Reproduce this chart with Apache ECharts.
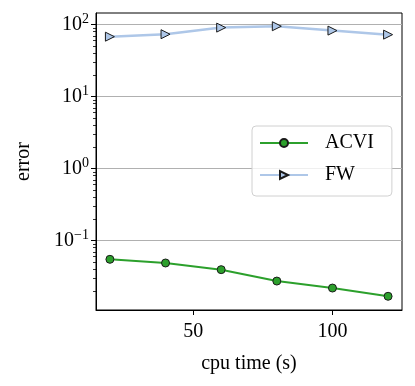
<!DOCTYPE html>
<html>
<head>
<meta charset="utf-8">
<script src="https://cdn.jsdelivr.net/npm/echarts@6/dist/echarts.min.js"></script>
<style>
  html, body { margin: 0; padding: 0; background: #fff; }
  #chart { width: 415px; height: 386px; }
</style>
</head>
<body>
<div id="chart"></div>
<script>
const cpuTime = [20, 40, 60, 80, 100, 120];
const acviError = [0.0551, 0.049, 0.0396, 0.0275, 0.022, 0.0169];
const fwError = [68, 73.6, 90.9, 95, 82.6, 72.6];
const xTicks = [50, 100];
const yTicks = [0.1, 1, 10, 100];

const yMin = 0.0109;
const yMax = 145;
const font = "Liberation Serif";

// matplotlib-like minor ticks at 2..9 x 10^k
const minorTicks = [];
for (let k = -2; k <= 2; k++) {
  for (let m = 2; m <= 9; m++) {
    const v = m * Math.pow(10, k);
    if (v > yMin && v < yMax) minorTicks.push(v);
  }
}

function powLabel(v) {
  const e = Math.round(Math.log10(v));
  return "10{sup|" + String(e).replace("-", "\u2212") + "}";
}

const chart = echarts.init(document.getElementById("chart"));
chart.setOption({
  animation: false,
  textStyle: { fontFamily: font },
  grid: {
    left: 96, right: 13, top: 13, bottom: 76,
    show: true, borderColor: "#000", borderWidth: 1,
  },
  legend: {
    orient: "vertical",
    left: 252,
    top: 126,
    padding: [7, 18, 11, 7],
    itemWidth: 48,
    itemHeight: 10,
    itemGap: 12,
    backgroundColor: "rgba(255,255,255,0.8)",
    borderColor: "#d0d0d0",
    borderWidth: 1,
    borderRadius: 4,
    textStyle: { fontFamily: font, fontSize: 20, color: "#000", lineHeight: 20, padding: [0, 0, 0, 12] },
    data: ["ACVI", "FW"],
  },
  xAxis: {
    type: "value",
    min: 15,
    max: 125,
    name: "cpu time (s)",
    nameLocation: "middle",
    nameGap: 44,
    nameTextStyle: { fontFamily: font, fontSize: 20, color: "#000" },
    axisLine: { onZero: false, lineStyle: { color: "#000", width: 1 } },
    axisTick: { customValues: xTicks, length: 5, lineStyle: { color: "#000" } },
    axisLabel: { customValues: xTicks, fontFamily: font, fontSize: 20, color: "#000", margin: 12 },
    splitLine: { show: false },
  },
  yAxis: [
    {
      type: "log",
      logBase: 10,
      min: yMin,
      max: yMax,
      name: "error",
      nameLocation: "middle",
      nameGap: 62,
      nameTextStyle: { fontFamily: font, fontSize: 20, color: "#000" },
      axisLine: { show: true, onZero: false, lineStyle: { color: "#000", width: 1 } },
      axisTick: { customValues: yTicks, length: 5, lineStyle: { color: "#000" } },
      axisLabel: {
        customValues: yTicks,
        formatter: powLabel,
        fontFamily: font,
        fontSize: 20,
        color: "#000",
        margin: 7,
        rich: {
          sup: { fontFamily: font, fontSize: 14, color: "#000", verticalAlign: "top", padding: [0, 0, 10, 0] },
        },
      },
      splitLine: { show: true, lineStyle: { color: "#b0b0b0", width: 1.2 } },
    },
    {
      type: "log",
      logBase: 10,
      min: yMin,
      max: yMax,
      position: "left",
      axisLine: { show: false, onZero: false },
      axisTick: { show: true, customValues: minorTicks, length: 3, lineStyle: { color: "#000", width: 0.8 } },
      axisLabel: { show: false },
      splitLine: { show: false },
    },
  ],
  series: [
    {
      name: "ACVI",
      type: "line",
      yAxisIndex: 0,
      data: cpuTime.map((x, i) => [x, acviError[i]]),
      color: "#2ca02c",
      symbol: "circle",
      symbolSize: 8,
      showAllSymbol: true,
      lineStyle: { color: "#2ca02c", width: 2 },
      itemStyle: { color: "#2ca02c", borderColor: "#1a1a1a", borderWidth: 1 },
      z: 3,
    },
    {
      name: "FW",
      type: "line",
      yAxisIndex: 0,
      data: cpuTime.map((x, i) => [x, fwError[i]]),
      color: "#aec7e8",
      symbol: "triangle",
      symbolRotate: -90,
      symbolSize: 9,
      showAllSymbol: true,
      lineStyle: { color: "#aec7e8", width: 2.5 },
      itemStyle: { color: "#aec7e8", borderColor: "#1a1a1a", borderWidth: 1 },
      z: 3,
    },
    {
      // carrier series so the minor-tick axis is laid out
      name: "minor",
      type: "line",
      yAxisIndex: 1,
      data: [],
      silent: true,
    },
  ],
});
</script>
</body>
</html>
